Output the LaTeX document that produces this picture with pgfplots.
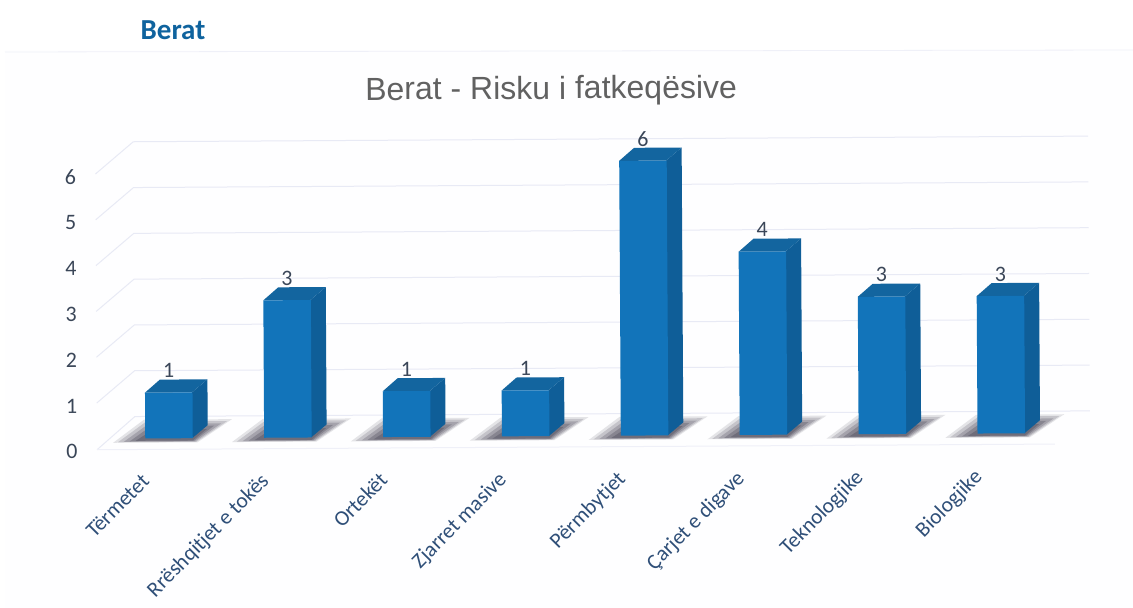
\documentclass[border=0pt]{standalone}
\usepackage{pgfplots}
\usepackage{pgfplotstable}
\usepackage{fontspec}
\pgfplotsset{compat=1.18}
\setmainfont{Carlito}
\newfontfamily\arialfont{Liberation Sans}
\definecolor{gridc}{HTML}{E8EAF5}
\definecolor{frontc}{HTML}{1274BA}
\definecolor{sidec}{HTML}{0F5E98}
\definecolor{topc}{HTML}{13659F}
\definecolor{shadc}{HTML}{4A4858}
\definecolor{txtc}{HTML}{3A4658}
\definecolor{catc}{HTML}{2F4F78}
\pgfplotstableread{
pos value
0 1
1 3
2 1
3 1
4 6
5 4
6 3
7 3
}\risk
% one layer of a bar's floor shadow: bar position, the four x offsets, low y, high y, opacity
\newcommand{\shlayer}[8]{%
  \pgfmathsetmacro\sa{#1+#2}\pgfmathsetmacro\sb{#1+#3}\pgfmathsetmacro\sc{#1+#4}\pgfmathsetmacro\sd{#1+#5}%
  \addplot[fill=shadc,fill opacity=#8,draw=none,forget plot] coordinates {(\sa,#6) (\sb,#6) (\sc,#7) (\sd,#7) (\sa,#6)};
}
\newcommand{\barshadow}[1]{%
  \shlayer{#1}{-0.47}{0.24}{0.53}{-0.21}{-0.09}{0.41}{.14}%
  \shlayer{#1}{-0.43}{0.23}{0.49}{-0.19}{-0.08}{0.37}{.20}%
  \shlayer{#1}{-0.38}{0.22}{0.44}{-0.17}{-0.07}{0.32}{.26}%
  \shlayer{#1}{-0.33}{0.21}{0.38}{-0.15}{-0.06}{0.27}{.32}%
  \shlayer{#1}{-0.28}{0.20}{0.32}{-0.13}{-0.05}{0.20}{.38}%
}
\newcommand{\barfaces}[2]{%
  \pgfmathsetmacro\xl{#1-0.2}\pgfmathsetmacro\xr{#1+0.195}%
  \pgfmathsetmacro\xlb{#1-0.074}\pgfmathsetmacro\xrb{#1+0.326}\pgfmathsetmacro\vb{#2+0.283}%
  \addplot[fill=sidec,draw=none,forget plot] coordinates {(\xr,0) (\xrb,0.283) (\xrb,\vb) (\xr,#2) (\xr,0)};
  \addplot[fill=topc,draw=none,forget plot] coordinates {(\xl,#2) (\xlb,\vb) (\xrb,\vb) (\xr,#2) (\xl,#2)};
}
\begin{document}
\begin{tikzpicture}[x=1pt,y=1pt]
\path[use as bounding box,fill=white] (0,0) rectangle (1133,608);
\fill[color=white!97!gridc] (5,0) rectangle (1133,558);
\draw[color=gridc!70!white,line width=0.8pt] (5,556) -- (1133,558);
\node[anchor=center,font=\fontsize{29}{32}\selectfont\bfseries,text=frontc!85!black] at (173,578) {Berat};
\begin{scope}[rotate around={0.34:(169,169.7)}]
\begin{axis}[
  at={(62pt,142.2pt)}, anchor=south west,
  x=118.9pt, y=45.8pt,
  xmin=-0.9, xmax=8.1, ymin=-0.6, ymax=7.4,
  clip=false,
  axis line style={draw=none},
  tick style={draw=none},
  xtick={0,...,7},
  xticklabels={Tërmetet,Rrëshqitjet e tokës,Ortekët,Zjarret masive,Përmbytjet,Çarjet e digave,Teknologjike,Biologjike},
  xticklabel style={rotate=45,anchor=north east,text=catc,font=\fontsize{21.5}{24}\selectfont,xshift=-25pt,yshift=16pt,inner sep=0pt},
  ytick={0,...,6},
  yticklabels={0,1,2,3,4,5,6},
  yticklabel style={text=txtc,font=\fontsize{22}{24}\selectfont,yshift=-13pt,xshift=19pt},
  yticklabel pos=left,
  title={\arialfont Berat - Risku i fatkeqësive},
  title style={at={(0.459,1.001)},anchor=center,text=black!62,font=\fontsize{32}{36}\selectfont},
]
% walls and floor
\addplot[gridc,line width=1pt,forget plot] coordinates {(-0.606,-0.24) (-0.286,0.48) (7.746,0.48)};
\addplot[gridc,line width=1pt,forget plot] coordinates {(-0.606,0.78) (-0.286,1.48) (7.746,1.48)};
\addplot[gridc,line width=1pt,forget plot] coordinates {(-0.606,1.78) (-0.286,2.48) (7.746,2.48)};
\addplot[gridc,line width=1pt,forget plot] coordinates {(-0.606,2.78) (-0.286,3.48) (7.746,3.48)};
\addplot[gridc,line width=1pt,forget plot] coordinates {(-0.606,3.78) (-0.286,4.48) (7.746,4.48)};
\addplot[gridc,line width=1pt,forget plot] coordinates {(-0.606,4.78) (-0.286,5.48) (7.746,5.48)};
\addplot[gridc,line width=1pt,forget plot] coordinates {(-0.606,5.78) (-0.286,6.48) (7.746,6.48)};
\addplot[gridc!70!white,line width=1pt,forget plot] coordinates {(-0.606,-0.24) (7.45,-0.24)};
\barshadow{0}\barshadow{1}\barshadow{2}\barshadow{3}\barshadow{4}\barshadow{5}\barshadow{6}\barshadow{7}
\barfaces{0}{1}\barfaces{1}{3}\barfaces{2}{1}\barfaces{3}{1}\barfaces{4}{6}\barfaces{5}{4}\barfaces{6}{3}\barfaces{7}{3}
\addplot[ybar,bar width=47.5pt,bar shift=0pt,fill=frontc,draw=none,
  point meta=explicit symbolic,
  nodes near coords,
  every node near coord/.append style={text=txtc,font=\fontsize{22}{24}\selectfont,anchor=center,yshift=22pt,xshift=0pt},
] table[x=pos,y=value,meta=value] {\risk};
\end{axis}
\end{scope}
\end{tikzpicture}
\end{document}
